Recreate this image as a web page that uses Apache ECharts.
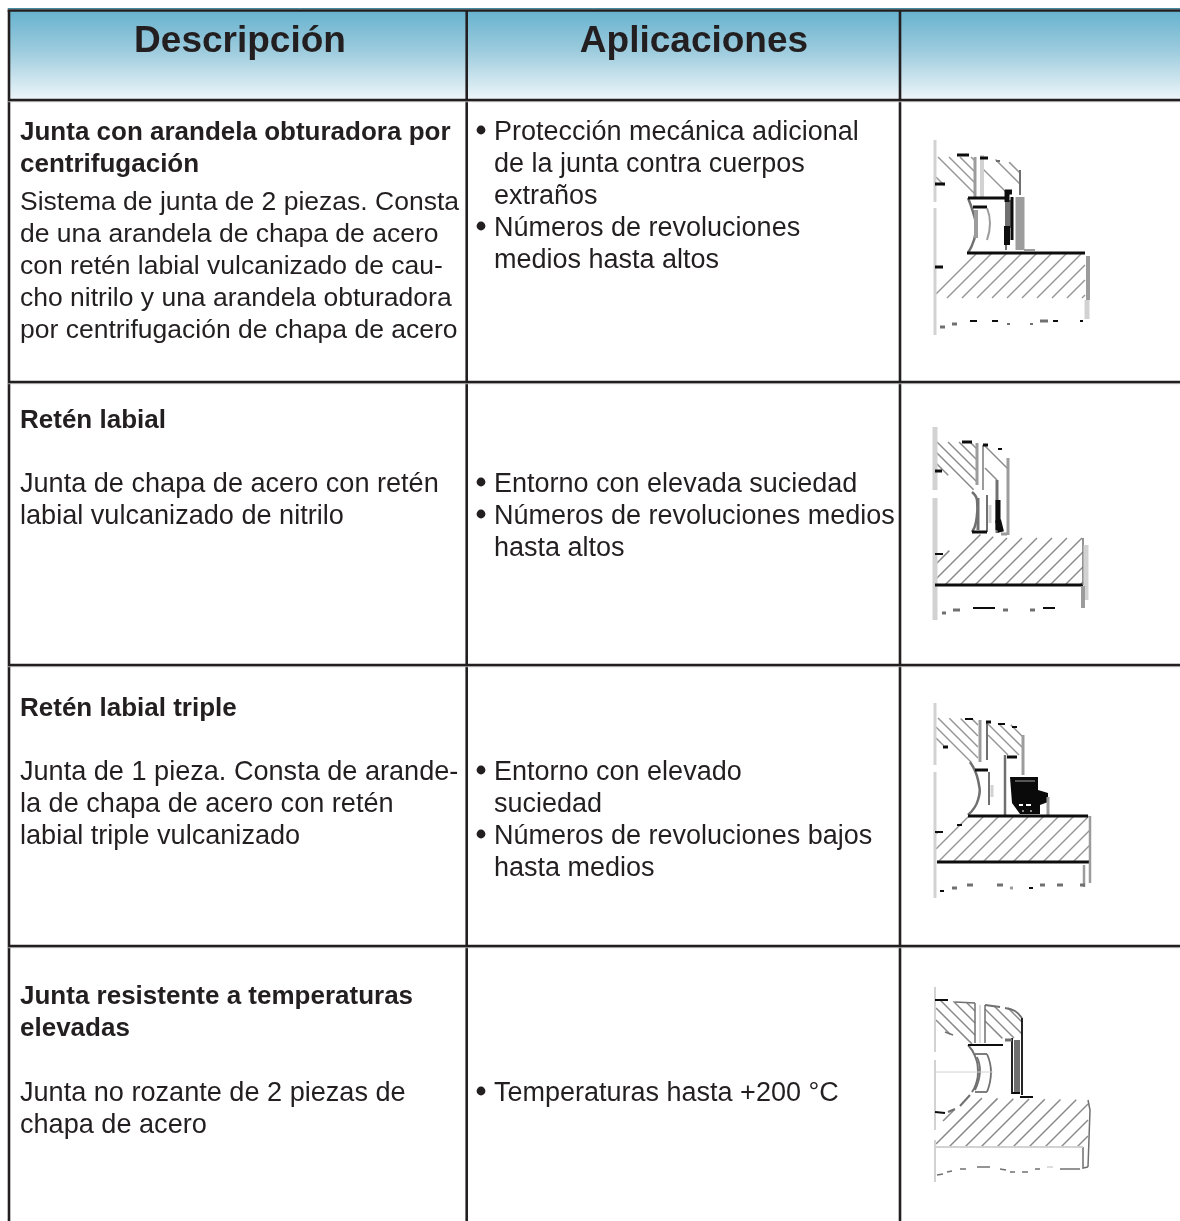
<!DOCTYPE html>
<html><head><meta charset="utf-8">
<script src="https://cdn.jsdelivr.net/npm/echarts@6/dist/echarts.min.js"></script>
<style>html,body{margin:0;padding:0;background:#fff}#c{width:1180px;height:1221px}</style>
</head><body><div id="c"></div>
<script>
// ---------- table content ----------
const headers = ['Descripción', 'Aplicaciones', ''];
const titles = [
  ['Junta con arandela obturadora por', 'centrifugación'],
  ['Retén labial'],
  ['Retén labial triple'],
  ['Junta resistente a temperaturas', 'elevadas']
];
const bodies = [
  ['Sistema de junta de 2 piezas. Consta', 'de una arandela de chapa de acero', 'con retén labial vulcanizado de cau-', 'cho nitrilo y una arandela obturadora', 'por centrifugación de chapa de acero'],
  ['Junta de chapa de acero con retén', 'labial vulcanizado de nitrilo'],
  ['Junta de 1 pieza. Consta de arande-', 'la de chapa de acero con retén', 'labial triple vulcanizado'],
  ['Junta no rozante de 2 piezas de', 'chapa de acero']
];
const applications = [
  [['Protección mecánica adicional', 'de la junta contra cuerpos', 'extraños'], ['Números de revoluciones', 'medios hasta altos']],
  [['Entorno con elevada suciedad'], ['Números de revoluciones medios', 'hasta altos']],
  [['Entorno con elevado', 'suciedad'], ['Números de revoluciones bajos', 'hasta medios']],
  [['Temperaturas hasta +200 °C']]
];
// ---------- layout (axis units = page pixels) ----------
const columnRules = [466.7, 900];
const rowRules = [100, 382, 665, 946];
const headerCentres = [240, 694];
const titleY = [133, 421, 709, 997];
const bodyY = [203, 485, 773, 1094];
const applY = [133, 485, 773, 1094];
const bodySize = [26.5, 27.1, 27.1, 27.1];
const lineStep = 32;
// ---------- drawings: [colour, width, points, smooth?] ----------
const PALE = '#d2d2d2', MID = '#9c9c9c', GREY = '#707070', DARK = '#0d0d0d';
const hatchA = [
  {d: -1, p: [[936,157],[975,157],[975,197],[968,198],[953,188],[936,183]]},
  {d: -1, p: [[983,158],[1000,160],[1013,163],[1020,170],[1020,195],[1003,195],[983,178]]},
  {d: 1, p: [[936,267],[950,265],[967,253],[1085,253],[1085,298],[936,298]]}
];
const strokesA = [
  [PALE,3,[[935,140],[935,202]]],[PALE,3,[[935,208],[935,335]]],
  [MID,3,[[975,157],[975,197]]],[PALE,4,[[982,155],[982,197]]],[GREY,2,[[1020,170],[1020,195]]],
  [GREY,2.5,[[968,198],[973,212],[976,226],[974,240],[968,253]],0.5],
  [DARK,3,[[968,198],[1007,198]]],[DARK,3,[[973,207],[987,207]]],
  [MID,4,[[976,210],[976,238]]],[MID,2,[[987,208],[990,223],[987,240]],0.5],
  [GREY,2,[[1006,200],[1006,250]]],[GREY,4,[[1009,200],[1009,228]]],
  [DARK,5,[[1005,192],[1012,192]]],[DARK,5,[[1007,190],[1007,202]]],[DARK,3,[[1012,197],[1012,240]]],[DARK,6,[[1007,226],[1007,245]]],
  [MID,9,[[1020,197],[1020,250]]],[MID,2,[[1024,250],[1035,250]]],
  [DARK,3,[[967,253],[1085,253]]],
  [MID,4,[[1088,256],[1088,300]]],[PALE,5,[[1087,300],[1087,319]]],
  [DARK,3,[[957,155],[969,155]]],[DARK,3,[[980,158],[988,158]]],[GREY,2,[[996,161],[1000,161]]],[DARK,3,[[935,184],[945,184]]],[DARK,3,[[935,267],[943,267]]],
  [GREY,3,[[940,327],[945,327]]],[GREY,3,[[952,324],[957,324]]],[DARK,2,[[970,321],[977,321]]],[DARK,2,[[992,321],[998,321]]],[GREY,2,[[1007,324],[1010,324]]],[GREY,2,[[1030,324],[1033,324]]],[GREY,3,[[1040,321],[1048,321]]],[DARK,2,[[1053,321],[1058,321]]],[DARK,2,[[1080,321],[1083,321]]]
];
const hatchB = [
  {d: -1, p: [[936,442],[977,442],[977,485],[972,492],[955,477],[936,472]]},
  {d: -1, p: [[985,445],[1000,448],[1008,458],[1008,480],[990,480],[985,472]]},
  {d: 1, p: [[936,553],[953,550],[972,533],[1000,538],[1083,538],[1083,585],[936,585]]}
];
const strokesB = [
  [PALE,5,[[935,427],[935,490]]],[PALE,5,[[935,498],[935,620]]],
  [MID,3,[[977,443],[977,485]]],[MID,2,[[983,445],[983,490]]],
  [GREY,2.5,[[972,492],[977,500],[976,522],[972,532]],0.5],
  [GREY,3,[[978,498],[978,530]]],[GREY,2,[[987,495],[987,532]]],[PALE,3,[[990,505],[990,523]]],
  [DARK,3,[[972,532],[987,532]]],
  [GREY,3,[[997,480],[997,533]]],[MID,3,[[1008,458],[1008,535]]],[DARK,5,[[998,500],[998,530]]],[DARK,6,[[998,520],[1001,532]]],[MID,3,[[1001,534],[1007,534]]],
  [DARK,3,[[935,585],[1083,585]]],[GREY,1.5,[[1083,538],[1083,585]]],
  [PALE,5,[[1086,545],[1086,600]]],[MID,4,[[1083,586],[1083,608]]],
  [DARK,3,[[962,442],[972,442]]],[DARK,3,[[983,445],[988,445]]],[DARK,2,[[998,449],[1002,449]]],[DARK,3,[[935,471],[942,471]]],[DARK,2,[[935,554],[943,554]]],
  [GREY,3,[[942,613],[946,613]]],[GREY,3,[[953,610],[960,610]]],[DARK,2,[[973,608],[995,608]]],[GREY,3,[[1003,610],[1008,610]]],[GREY,3,[[1030,610],[1035,610]]],[DARK,2,[[1043,608],[1055,608]]]
];
const hatchC = [
  {d: -1, p: [[936,718],[978,719],[978,762],[970,762],[953,750],[936,742]]},
  {d: -1, p: [[988,722],[1013,725],[1023,735],[1023,755],[1007,755],[988,743]]},
  {d: 1, p: [[936,832],[953,828],[968,816],[1090,816],[1090,862],[936,862]]}
];
const sealC = [[1010,777],[1038,777],[1038,790],[1048,793],[1048,802],[1040,805],[1040,814],[1020,814],[1012,803]];
const strokesC = [
  [PALE,3,[[935,703],[935,765]]],[PALE,3,[[935,772],[935,898]]],
  [MID,3,[[980,720],[980,762]]],[GREY,2,[[987,722],[987,760]]],[GREY,2.5,[[1005,755],[1005,815]]],[MID,3,[[1023,735],[1023,775]]],
  [GREY,2.5,[[970,762],[978,780],[978,800],[968,815]],0.5],
  [DARK,3,[[975,770],[988,770]]],[GREY,2,[[989,772],[989,805]]],[PALE,3,[[992,785],[992,797]]],
  [DARK,3,[[1007,757],[1017,757]]],[MID,3,[[1048,797],[1048,815]]],
  [GREY,1.5,[[1015,781],[1035,781]]],['#fff',2,[[1019,805],[1023,805]]],['#fff',2,[[1026,805],[1031,805]]],['#bbb',1.5,[[1022,811],[1024,811]]],['#bbb',1.5,[[1030,811],[1032,811]]],
  [DARK,3,[[968,816],[1088,816]]],[DARK,3,[[937,862],[1090,862]]],
  [MID,2.5,[[1090,816],[1090,883]]],[MID,2.5,[[1084,865],[1084,887]]],
  [DARK,2,[[965,719],[973,719]]],[DARK,3,[[986,722],[991,722]]],[DARK,2,[[998,724],[1005,724]]],[DARK,2,[[1012,727],[1017,727]]],[DARK,3,[[943,747],[948,747]]],[DARK,2,[[935,832],[943,832]]],[DARK,2,[[957,825],[962,825]]],
  [DARK,2,[[940,891],[944,891]]],[GREY,3,[[952,888],[957,888]]],[GREY,3,[[967,885],[973,885]]],[GREY,3,[[997,885],[1003,885]]],[MID,3,[[1010,888],[1013,888]]],[DARK,2,[[1029,888],[1033,888]]],[GREY,3,[[1040,885],[1045,885]]],[GREY,3,[[1057,885],[1063,885]]],[GREY,3,[[1080,885],[1085,885]]]
];
const hatchD = [
  {d: -1, p: [[936,1000],[975,1003],[975,1043],[968,1045],[953,1035],[936,1030]]},
  {d: -1, p: [[985,1005],[1010,1008],[1022,1018],[1022,1038],[1003,1038],[995,1043],[985,1043]]},
  {d: 1, p: [[936,1130],[950,1112],[975,1098],[1088,1100],[1088,1147],[936,1147]]}
];
const strokesD = [
  [PALE,2,[[935,987],[935,1052]]],[PALE,2,[[935,1060],[935,1130]]],[PALE,2,[[935,1140],[935,1182]]],
  [DARK,2,[[935,1000],[948,1000]]],[GREY,1.5,[[955,1002],[975,1003]]],[GREY,2,[[985,1005],[1000,1007]]],[GREY,2,[[1005,1008],[1015,1011],[1022,1018]],0.4],
  [GREY,1.5,[[975,1003],[975,1043]]],[PALE,1.5,[[980,1005],[980,1043]]],[GREY,1.5,[[985,1005],[985,1043]]],
  [GREY,1.5,[[945,1032],[953,1035]]],[GREY,2,[[968,1045],[975,1056],[978,1072],[976,1084],[972,1092]],0.5],[GREY,2,[[970,1095],[960,1106]]],[GREY,2,[[955,1109],[948,1112]]],[DARK,2,[[935,1112],[945,1113]]],
  [DARK,2.2,[[968,1045],[1003,1045]]],
  [GREY,1.8,[[975,1054],[987,1054]]],[GREY,1.8,[[987,1054],[991,1072],[987,1092]],0.5],[GREY,1.8,[[987,1092],[975,1092]]],[GREY,1.8,[[977,1057],[980,1072],[975,1090]],0.5],
  [PALE,1,[[935,1072],[993,1072]]],
  [GREY,6,[[1017,1040],[1017,1093]]],[DARK,1.8,[[1012,1038],[1012,1093],[1020,1093]]],[DARK,1.8,[[1022,1018],[1022,1095]]],[GREY,3,[[1005,1040],[1012,1040]]],
  [DARK,2,[[1020,1097],[1033,1097]]],
  [GREY,1.5,[[1088,1100],[1090,1110],[1088,1167]]],[GREY,1.5,[[1083,1147],[1083,1168],[1088,1167]]],[PALE,2,[[936,1147],[1083,1147]]],
  [GREY,1.5,[[937,1175],[943,1174]]],[GREY,1.5,[[947,1172],[952,1171]]],[GREY,1.5,[[960,1169],[966,1169]]],[GREY,1.5,[[977,1167],[990,1167]]],[GREY,1.5,[[1000,1169],[1006,1170]]],[GREY,1.5,[[1010,1172],[1015,1172]]],[GREY,1.5,[[1022,1172],[1028,1172]]],[GREY,1.5,[[1035,1169],[1040,1169]]],[PALE,1.5,[[1047,1167],[1053,1167]]],[GREY,1.5,[[1060,1169],[1080,1169]]]
];
const drawings = [
  {hatch: hatchA, strokes: strokesA, fills: [], hatchColor: '#969696', spacing: 15, upper: 11},
  {hatch: hatchB, strokes: strokesB, fills: [], hatchColor: '#8a8a8a', spacing: 15, upper: 11},
  {hatch: hatchC, strokes: strokesC, fills: [sealC], hatchColor: '#969696', spacing: 15, upper: 11},
  {hatch: hatchD, strokes: strokesD, fills: [], hatchColor: '#8a8a8a', spacing: 16, upper: 12}
];
// ---------- helpers ----------
function hatchSegments(region, spacing) {
  const f = q => q[0] + region.d * q[1];
  const vals = region.p.map(f), lo = Math.min(...vals), hi = Math.max(...vals), out = [];
  for (let c = Math.ceil(lo / spacing) * spacing; c <= hi; c += spacing) {
    const hits = [];
    region.p.forEach((a, i) => {
      const b = region.p[(i + 1) % region.p.length], fa = f(a), fb = f(b);
      if ((fa - c) * (fb - c) < 0) {
        const t = (c - fa) / (fb - fa);
        hits.push([a[0] + t * (b[0] - a[0]), a[1] + t * (b[1] - a[1])]);
      }
    });
    hits.sort((m, n) => m[0] - n[0]);
    for (let k = 0; k + 1 < hits.length; k += 2) out.push([hits[k], hits[k + 1]]);
  }
  return out;
}
const BODY = '"Liberation Sans", Arial, sans-serif', INK = '#231f20';
const textRows = [], bulletRows = [];
headers.forEach((t, i) => { if (t) textRows.push({t, x: headerCentres[i], y: 42, font: 'bold 37px ' + BODY, align: 'center'}); });
titles.forEach((ls, r) => ls.forEach((t, k) => textRows.push({t, x: 20, y: titleY[r] + k * lineStep, font: 'bold 26px ' + BODY})));
bodies.forEach((ls, r) => ls.forEach((t, k) => textRows.push({t, x: 20, y: bodyY[r] + k * lineStep, font: bodySize[r] + 'px ' + BODY})));
applications.forEach((items, r) => {
  let k = 0;
  items.forEach(ls => ls.forEach((t, j) => {
    if (j === 0) bulletRows.push([481, applY[r] + k * lineStep - 3]);
    textRows.push({t, x: 494, y: applY[r] + k * lineStep, font: '27px ' + BODY});
    k++;
  }));
});
const chart = echarts.init(document.getElementById('c'));
function poly(api, pts) { return pts.map(q => api.coord(q)); }
chart.setOption({
  animation: false,
  backgroundColor: '#fff',
  grid: {left: 0, right: 0, top: 0, bottom: 0},
  xAxis: {type: 'value', min: 0, max: 1180, show: false},
  yAxis: {type: 'value', min: 0, max: 1221, inverse: true, show: false},
  series: [
    {type: 'custom', silent: true, clip: false, z: 1, data: [[8, 10, 1180, 100]], encode: {x: [0, 2], y: [1, 3]},
      renderItem: (p, api) => {
        const a = api.coord([api.value(0), api.value(1)]), b = api.coord([api.value(2), api.value(3)]);
        return {type: 'rect', shape: {x: a[0], y: a[1], width: b[0] - a[0], height: b[1] - a[1]},
          style: {fill: new echarts.graphic.LinearGradient(0, 0, 0, 1, [{offset: 0, color: '#66b2ce'}, {offset: 0.45, color: '#9ccbdd'}, {offset: 1, color: '#eef6fa'}])}};
      }},
    {type: 'custom', silent: true, clip: false, z: 2, data: [[0]],
      renderItem: (p, api) => {
        const line = (x1, y1, x2, y2, w, c) => {
          const a = api.coord([x1, y1]), b = api.coord([x2, y2]);
          return {type: 'line', shape: {x1: a[0], y1: a[1], x2: b[0], y2: b[1]}, style: {stroke: c || INK, lineWidth: w}};
        };
        const kids = [line(7.7, 8.6, 1180, 8.6, 1, '#2f7f99'), line(7.7, 10.5, 1180, 10.5, 2.5), line(9, 10, 9, 1221, 2.6)];
        columnRules.forEach(x => kids.push(line(x, 10, x, 1221, 2.6)));
        rowRules.forEach(y => {
          kids.push(line(8, y + 1.7, 1180, y + 1.7, 1, '#c4c4c4'));
          kids.push(line(8, y, 1180, y, 2.5));
        });
        return {type: 'group', children: kids};
      }},
    {type: 'custom', silent: true, clip: false, z: 3, data: drawings.map((d, i) => [i]),
      renderItem: (p, api) => {
        const d = drawings[p.dataIndex], kids = [];
        d.hatch.forEach(r => hatchSegments(r, r.d === 1 ? d.spacing : d.upper).forEach(s => {
          kids.push({type: 'polyline', shape: {points: poly(api, s)}, style: {stroke: d.hatchColor, lineWidth: 1.5, fill: null}});
        }));
        d.fills.forEach(f => kids.push({type: 'polygon', shape: {points: poly(api, f)}, style: {fill: '#0a0a0a'}}));
        d.strokes.forEach(s => kids.push({type: 'polyline', shape: {points: poly(api, s[2]), smooth: s[3] || 0}, style: {stroke: s[0], lineWidth: s[1], fill: null}}));
        return {type: 'group', children: kids};
      }},
    {type: 'custom', silent: true, clip: false, z: 4, data: bulletRows, encode: {x: 0, y: 1},
      renderItem: (p, api) => {
        const a = api.coord([api.value(0), api.value(1)]);
        return {type: 'circle', shape: {cx: a[0], cy: a[1], r: 4.4}, style: {fill: INK}};
      }},
    {type: 'custom', silent: true, clip: false, z: 5, data: textRows.map(r => [r.x, r.y]), encode: {x: 0, y: 1},
      renderItem: (p, api) => {
        const r = textRows[p.dataIndex], a = api.coord([api.value(0), api.value(1)]);
        return {type: 'text', x: a[0], y: a[1], style: {text: r.t, fill: INK, verticalAlign: 'middle', align: r.align || 'left', font: r.font}};
      }}
  ]
});
</script></body></html>
